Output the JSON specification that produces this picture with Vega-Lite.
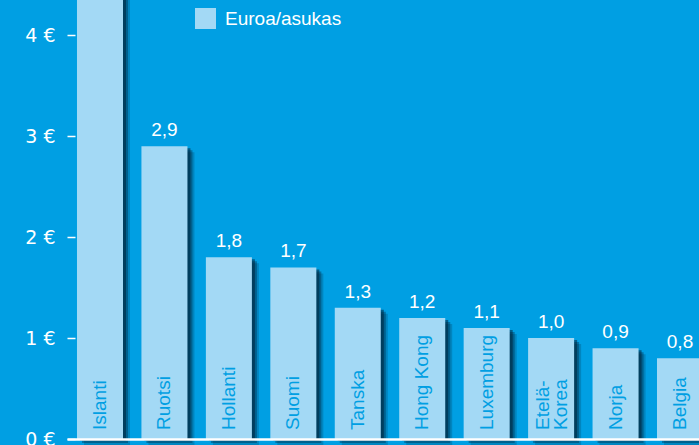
{
  "$schema": "https://vega.github.io/schema/vega-lite/v6.json",
  "width": 646,
  "height": 439,
  "autosize": {"type": "none"},
  "padding": {"left": 67, "top": 0, "right": 0, "bottom": 6},
  "background": "#009fe3",
  "config": {
    "view": {"stroke": null},
    "font": "Liberation Sans",
    "locale": {"number": {"decimal": ",", "thousands": " ", "grouping": [3], "currency": ["", " €"]}}
  },
  "data": {
    "values": [
      {"maa": "Islanti", "teksti": "Islanti", "arvo": 4.9},
      {"maa": "Ruotsi", "teksti": "Ruotsi", "arvo": 2.9},
      {"maa": "Hollanti", "teksti": "Hollanti", "arvo": 1.8},
      {"maa": "Suomi", "teksti": "Suomi", "arvo": 1.7},
      {"maa": "Tanska", "teksti": "Tanska", "arvo": 1.3},
      {"maa": "Hong Kong", "teksti": "Hong Kong", "arvo": 1.2},
      {"maa": "Luxemburg", "teksti": "Luxemburg", "arvo": 1.1},
      {"maa": "Etelä-Korea", "teksti": "Etelä-\nKorea", "arvo": 1.0},
      {"maa": "Norja", "teksti": "Norja", "arvo": 0.9},
      {"maa": "Belgia", "teksti": "Belgia", "arvo": 0.8}
    ]
  },
  "encoding": {
    "x": {
      "field": "maa", "type": "nominal", "sort": null,
      "scale": {"paddingInner": 0.286, "paddingOuter": 0.155},
      "axis": {"labels": false, "ticks": false, "title": null, "domainColor": "white", "domainWidth": 2.5, "zindex": 2}
    },
    "y": {
      "field": "arvo", "type": "quantitative",
      "scale": {"domain": [0, 4.35], "nice": false, "zero": true},
      "axis": {
        "values": [0, 1, 2, 3, 4],
        "labelExpr": "datum.value + ' €'",
        "title": null, "domain": false, "grid": false,
        "tickColor": "white", "tickSize": -8, "tickWidth": 1.5,
        "labelColor": "white", "labelFontSize": 19, "labelPadding": 20,
        "labelFont": "DejaVu Sans", "labelFontWeight": "normal", "zindex": 2
      }
    }
  },
  "layer": [
    {"mark": {"type": "bar", "color": "#001c30", "opacity": 0.2, "xOffset": 7, "yOffset": 6}},
    {"mark": {"type": "bar", "color": "#001c30", "opacity": 0.35, "xOffset": 5, "yOffset": 4}},
    {"mark": {"type": "bar", "color": "#001c30", "opacity": 0.5, "xOffset": 3, "yOffset": 2}},
    {
      "mark": {"type": "bar"},
      "encoding": {
        "color": {
          "datum": "Euroa/asukas",
          "scale": {"range": ["#a3d9f5"]},
          "legend": {
            "orient": "none", "legendX": 128, "legendY": 8, "padding": 0,
            "title": null, "symbolType": "square", "symbolSize": 441,
            "symbolStrokeWidth": 0, "symbolOpacity": 1,
            "labelFontSize": 19, "labelColor": "white", "labelOffset": 9,
            "labelFont": "Liberation Sans"
          }
        }
      }
    },
    {
      "mark": {"type": "text", "dy": -10, "baseline": "alphabetic", "fontSize": 19, "color": "white"},
      "encoding": {"text": {"field": "arvo", "type": "quantitative", "format": ".1f"}}
    },
    {
      "transform": [{"filter": "datum.maa != 'Etelä-Korea'"}],
      "mark": {"type": "text", "angle": 270, "align": "left", "baseline": "middle", "dx": 9, "fontSize": 19, "color": "#009fe3"},
      "encoding": {
        "y": {"datum": 0, "type": "quantitative"},
        "text": {"field": "teksti", "type": "nominal"}
      }
    },
    {
      "transform": [{"filter": "datum.maa == 'Etelä-Korea'"}],
      "mark": {"type": "text", "angle": 270, "align": "left", "baseline": "middle", "dx": 9, "dy": -8, "fontSize": 19, "color": "#009fe3", "lineBreak": "\n", "lineHeight": 18},
      "encoding": {
        "y": {"datum": 0, "type": "quantitative"},
        "text": {"field": "teksti", "type": "nominal"}
      }
    }
  ]
}
